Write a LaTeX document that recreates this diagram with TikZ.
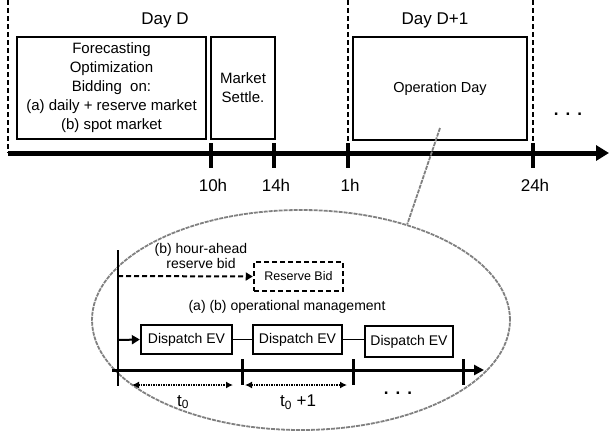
\documentclass[tikz,border=0pt]{standalone}
\usepackage{fontspec}
\setmainfont{Liberation Sans}
\usetikzlibrary{arrows.meta}
\usetikzlibrary{positioning}
\usetikzlibrary{shapes.geometric}

\begin{document}
\begin{tikzpicture}[
    x=1pt, y=-1pt,
    phase/.style={rectangle, draw=black, line width=2.5pt, align=center, inner sep=0, font=\fontsize{15}{19}\selectfont},
    slot/.style={rectangle, draw=black, line width=2.3pt, minimum height=29, inner sep=0, font=\fontsize{14}{16}\selectfont},
    daymark/.style={line width=2pt, dash pattern=on 5pt off 3pt},
    hour/.style={font=\fontsize{17}{20}\selectfont},
    tickmark/.style={line width=3.5pt},
    txt/.style={align=center, font=\fontsize{14}{15}\selectfont},
    dots/.style={font=\fontsize{17}{20}\selectfont\bfseries},
    zoomline/.style={draw=gray, line width=1.8pt, dash pattern=on 4pt off 1pt},
    ]
    \useasboundingbox (0,0) rectangle (610,432);

    \node (dayD) [hour] at (165,20) {Day D};
    \node (dayD1) [hour] at (435,20) {Day D+1};
    \node (prep) [phase, minimum width=189, minimum height=102] at (111.5,88)
        {Forecasting\\Optimization\\Bidding~ on:\\(a) daily + reserve market\\(b) spot market};
    \node (settle) [phase, minimum width=64, minimum height=102] at (243,88) {Market\\Settle.};
    \node (opday) [phase, minimum width=174, minimum height=103, font=\fontsize{14.5}{17}\selectfont] at (440,88.5) {Operation Day};
    \node (more) [dots] at (568,114) {.\hspace{7pt}.\hspace{7pt}.};

    \coordinate (t0) at (8,153);
    \coordinate (tend) at (609,153);
    \draw [line width=5pt, -{Triangle[length=13pt, width=15pt]}] (t0) -- (tend);
    \draw [daymark] (8,0) -- (t0);
    \draw [daymark] (348,0) -- (348,150);
    \draw [daymark] (533,0) -- (533,150);
    \foreach \x/\h in {211/10h, 274/14h, 348/1h, 533/24h} {
        \draw [tickmark] (\x,143) -- (\x,168);
        \node (lbl\h) [hour] at (\x+2,185) {\h};
    }

    \node (zoom) [ellipse, zoomline, minimum width=418, minimum height=220] at (301,320) {};
    \coordinate (opfocus) at (440,128);
    \draw [zoomline] (opfocus) -- (zoom.42);

    \coordinate (stop) at (118,250);
    \coordinate (sbot) at (118,386);
    \draw [line width=2.5pt] (stop) -- (sbot);

    \node (ahead) [txt] at (201,256) {(b) hour-ahead\\reserve bid};
    \node (rbid) [slot, daymark, line width=2.5pt, minimum width=89, font=\fontsize{12.5}{15}\selectfont] at (298.5,276.5) {Reserve Bid};
    \coordinate (bidfrom) at (118,276);
    \draw [daymark, -{Triangle[length=7pt, width=8pt]}] (bidfrom) -- (rbid.west);

    \node (opmgmt) [txt] at (287,307) {(a) (b) operational management};
    \node (d1) [slot, minimum width=91] at (186.5,339.5) {Dispatch EV};
    \node (d2) [slot, minimum width=89] at (297.5,339.5) {Dispatch EV};
    \node (d3) [slot, minimum width=88, minimum height=31] at (409,341.5) {Dispatch EV};
    \coordinate (dispfrom) at (118,340);
    \draw [line width=2pt, -{Triangle[length=8pt, width=9pt]}] (dispfrom) -- (d1.west);
    \draw [line width=1.5pt] (d1.east) -- (d2.west);
    \draw [line width=1.5pt] (d2.east) -- (d3.west |- d2.east);

    \coordinate (s0) at (112,370);
    \coordinate (s1) at (484,370);
    \draw [line width=3pt, -{Triangle[length=10pt, width=10pt]}] (s0) -- (s1);
    \foreach \x in {242, 353, 463}
        \draw [line width=3pt] (\x,359) -- (\x,385);

    \coordinate (p0) at (132,385);
    \coordinate (p1) at (233,385);
    \coordinate (q0) at (245,385);
    \coordinate (q1) at (347,385);
    \draw [line width=2pt, dash pattern=on 1.5pt off 1pt, {Latex[length=7pt, width=7pt]}-{Latex[length=7pt, width=7pt]}] (p0) -- (p1);
    \draw [line width=2pt, dash pattern=on 1.5pt off 1pt, {Latex[length=7pt, width=7pt]}-{Latex[length=7pt, width=7pt]}] (q0) -- (q1);
    \node (tzero) [hour] at (183,402) {t\textsubscript{0}};
    \node (tone) [hour] at (298,402) {t\textsubscript{0} +1};
    \node (moreslots) [dots] at (398,393) {.\hspace{7pt}.\hspace{7pt}.};
\end{tikzpicture}
\end{document}
